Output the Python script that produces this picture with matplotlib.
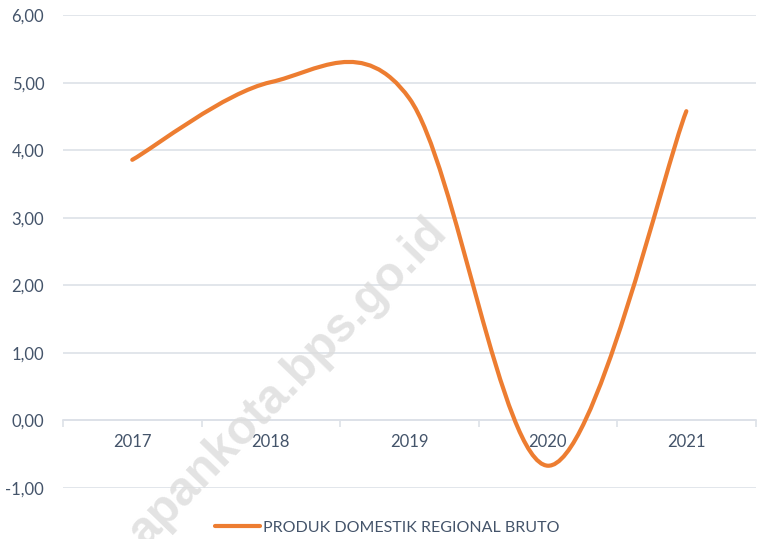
import matplotlib
matplotlib.use("Agg")
import matplotlib.pyplot as plt
from matplotlib.path import Path
from matplotlib.patches import PathPatch
from matplotlib.lines import Line2D
from matplotlib.ticker import FixedLocator, FuncFormatter

years = ["2017", "2018", "2019", "2020", "2021"]
pdrb = [3.86, 5.01, 4.77, -0.67, 4.58]
series_name = "PRODUK DOMESTIK REGIONAL BRUTO"
y_ticks = [-1, 0, 1, 2, 3, 4, 5, 6]
watermark = "apankota.bps.go.id"

plt.rcParams['font.family'] = ['Lato', 'DejaVu Sans']
TEXT = "#44546a"
GRID = "#dde1e8"
ORANGE = "#ed7d31"

W, H = 757, 539
fig = plt.figure(figsize=(W / 100, H / 100), dpi=100)
ax = fig.add_axes([63 / W, 1 - 488 / H, (755.6 - 63) / W, (488 - 15.3) / H])
ax.set_xlim(0, len(years))
ax.set_ylim(-1, 6)

for s in ["top", "right", "left"]:
    ax.spines[s].set_visible(False)
ax.spines["bottom"].set_position(("data", 0))
ax.spines["bottom"].set_color(GRID)
ax.spines["bottom"].set_linewidth(1.2)

ax.yaxis.set_major_locator(FixedLocator(y_ticks))
ax.yaxis.set_major_formatter(FuncFormatter(lambda v, p: f"{v:.2f}".replace(".", ",")))
ax.tick_params(axis="y", length=0, pad=13.5, labelsize=12, labelcolor=TEXT)
ax.grid(axis="y", color=GRID, linewidth=1.2)
ax.set_axisbelow(True)

ax.xaxis.set_major_locator(FixedLocator(list(range(len(years) + 1))))
ax.xaxis.set_major_formatter(FuncFormatter(lambda v, p: ""))
ax.xaxis.set_minor_locator(FixedLocator([i + 0.5 for i in range(len(years))]))
ax.set_xticklabels(years, minor=True)
ax.tick_params(axis="x", which="major", direction="out", length=5, width=1.2, color=GRID)
ax.tick_params(axis="x", which="minor", length=0, pad=10, labelsize=12, labelcolor=TEXT)

# smoothed line (Catmull-Rom style Bezier through data points)
xs = [i + 0.5 for i in range(len(years))]
pts = list(zip(xs, pdrb))
n = len(pts)
verts = [pts[0]]
codes = [Path.MOVETO]
for i in range(n - 1):
    p0 = pts[i - 1] if i > 0 else pts[i]
    p1 = pts[i]
    p2 = pts[i + 1]
    p3 = pts[i + 2] if i + 2 < n else pts[i + 1]
    c1 = (p1[0] + (p2[0] - p0[0]) / 6, p1[1] + (p2[1] - p0[1]) / 6)
    c2 = (p2[0] - (p3[0] - p1[0]) / 6, p2[1] - (p3[1] - p1[1]) / 6)
    verts += [c1, c2, p2]
    codes += [Path.CURVE4] * 3
patch = PathPatch(Path(verts, codes), fill=False, edgecolor=ORANGE, linewidth=3.0,
                  capstyle="round", joinstyle="round", zorder=5, clip_on=False)
ax.add_patch(patch)

# watermark
fig.text(288 / W, 1 - 382 / H, watermark, rotation=46, fontsize=34.5, fontweight="bold",
         color="#dcdcdc", alpha=0.8, ha="center", va="center", zorder=1,
         family=["Liberation Sans", "DejaVu Sans"])

handle = Line2D([0], [0], color=ORANGE, linewidth=3.0, solid_capstyle="round")
fig.legend([handle], [series_name], loc="center", bbox_to_anchor=(387.5 / W, 1 - 528 / H),
           frameon=False, fontsize=11.5, handlelength=2.8, handletextpad=0.2,
           labelcolor=TEXT)

fig.savefig("out.png", dpi=100)
